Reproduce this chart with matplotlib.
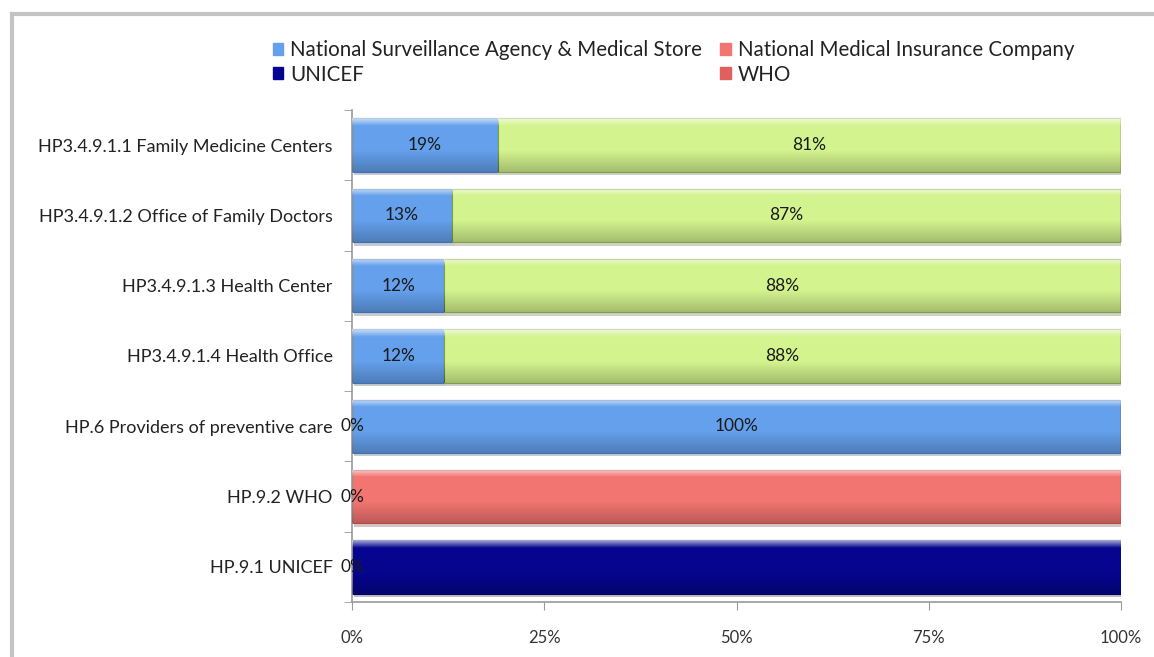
import matplotlib.pyplot as plt
import matplotlib.patheffects as pe
from matplotlib.patches import Patch
from matplotlib.lines import Line2D
import numpy as np

plt.rcParams['font.family'] = ['Lato', 'DejaVu Sans']

# data (top row first)
categories = ['HP3.4.9.1.1 Family Medicine Centers',
              'HP3.4.9.1.2 Office of Family Doctors',
              'HP3.4.9.1.3 Health Center',
              'HP3.4.9.1.4 Health Office',
              'HP.6 Providers of preventive care',
              'HP.9.2 WHO',
              'HP.9.1 UNICEF']
nsa_ms = [19, 13, 12, 12, 100, 0, 0]
other = [81, 87, 88, 88, 0, 0, 0]      # green series, cut off from the legend
nmic = [0, 0, 0, 0, 0, 0, 0]
who = [0, 0, 0, 0, 0, 100, 0]
unicef = [0, 0, 0, 0, 0, 0, 100]
nsa_labels = ['19%', '13%', '12%', '12%', '100%', '', '']
other_labels = ['81%', '87%', '88%', '88%', '', '', '']
zero_labels = ['', '', '', '', '0%', '0%', '0%']
x_ticks = [0, 25, 50, 75, 100]

blue = '#64a0ec'
green = '#d3f38e'
red = '#f27571'
navy = '#05058f'

fig = plt.figure(figsize=(11.54, 6.57), dpi=100)
ax = fig.add_axes([352 / 1154, 1 - 602 / 657, (1121 - 352) / 1154, (602 - 110) / 657])

n = len(categories)
y = np.arange(n)[::-1]
h = 0.76

grad = np.zeros((60, 1, 4))
t = np.linspace(0, 1, 60)
grad[:, 0, :3] = np.where(t < 0.5, 1.0, 0.0)[:, None]
grad[:, 0, 3] = np.where(t < 0.14, 0.65 * (1 - t / 0.14), 0) + np.where(t > 0.6, 0.22 * (t - 0.6) / 0.4, 0)


def draw(vals, left, color, edge):
    bars = ax.barh(y, vals, left=left, height=h, color=color, edgecolor=edge,
                   linewidth=0.8, zorder=2,
                   path_effects=[pe.SimplePatchShadow(offset=(1.5, -2.5), alpha=0.25), pe.Normal()])
    for b in bars:
        if b.get_width() <= 0:
            continue
        x0 = b.get_x()
        im = ax.imshow(grad, extent=(x0, x0 + b.get_width(), b.get_y(), b.get_y() + h),
                       origin='upper', aspect='auto', zorder=3, interpolation='bilinear')
        im.set_clip_path(b)
    return bars


left = np.zeros(n)
draw(nsa_ms, left, blue, '#3f6fb5')
left = left + np.array(nsa_ms)
draw(other, left, green, '#7f9e45')
left = left + np.array(other)
draw(nmic, left, red, '#b84a46')
left = left + np.array(nmic)
draw(who, left, red, '#b84a46')
left = left + np.array(who)
draw(unicef, left, navy, '#03035e')

lab_kw = dict(ha='center', va='center', fontsize=12.5, color='#1a1a1a', zorder=5)
for i in range(n):
    if nsa_labels[i]:
        ax.text(nsa_ms[i] / 2, y[i], nsa_labels[i], **lab_kw)
    if other_labels[i]:
        ax.text(nsa_ms[i] + other[i] / 2, y[i], other_labels[i], **lab_kw)
    if zero_labels[i]:
        ax.text(0, y[i], zero_labels[i], **lab_kw)

ax.set_xlim(0, 100)
ax.set_ylim(-0.5, n - 0.5)
ax.set_xticks(x_ticks)
ax.set_xticklabels([f'{v}%' for v in x_ticks], fontsize=12, color='#333333')
ax.set_yticks(y)
ax.set_yticklabels(categories, fontsize=13, color='#222222')
ax.set_yticks(np.arange(-0.5, n, 1), minor=True)
ax.tick_params(axis='y', which='major', length=0, pad=14)
ax.tick_params(axis='y', which='minor', length=6, color='#999999', direction='out')
ax.tick_params(axis='x', length=6, color='#999999', pad=14)
for s in ['top', 'right']:
    ax.spines[s].set_visible(False)
for s in ['left', 'bottom']:
    ax.spines[s].set_color('#999999')
    ax.spines[s].set_linewidth(1.2)

handles = [Patch(color=blue, label='National Surveillance Agency & Medical Store'),
           Patch(color=navy, label='UNICEF'),
           Patch(color=red, label='National Medical Insurance Company'),
           Patch(color='#e0605c', label='WHO')]
fig.legend(handles=handles, ncol=2, loc='upper left', bbox_to_anchor=(254 / 1154, 1 - 22 / 657),
           frameon=False, fontsize=14.8, handlelength=0.5, handleheight=0.5, handletextpad=0.35,
           columnspacing=0.9, labelspacing=0.2, labelcolor='#222222')

# outer chart frame
fig.add_artist(Line2D([12 / 1154, 12 / 1154], [0, 1 - 14 / 657], color='#c4c4c4', lw=3,
                      transform=fig.transFigure))
fig.add_artist(Line2D([12 / 1154, 1], [1 - 14 / 657, 1 - 14 / 657], color='#c4c4c4', lw=3,
                      transform=fig.transFigure))

fig.savefig('out.png', dpi=100)
